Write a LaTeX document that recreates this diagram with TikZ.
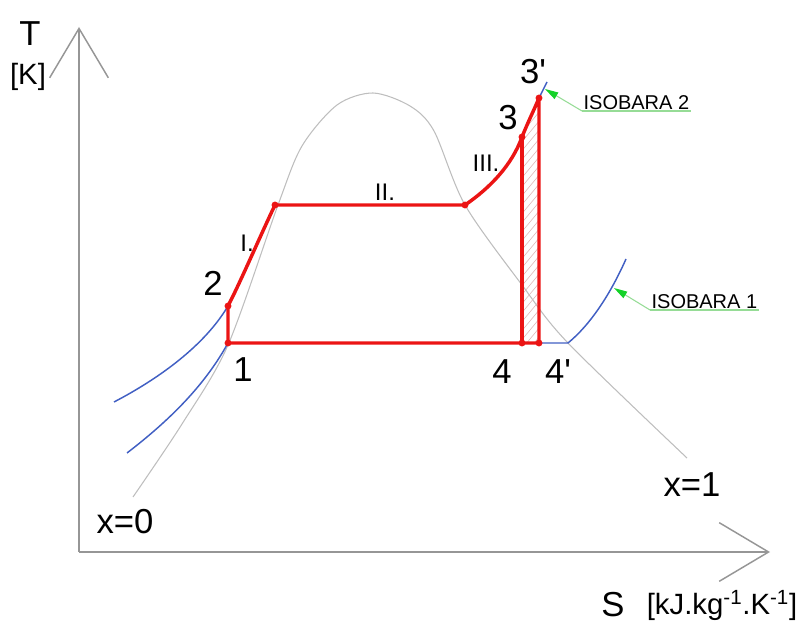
\documentclass[tikz,border=0pt]{standalone}
\usepackage{fontspec}
\setmainfont{Liberation Sans}
\usetikzlibrary{arrows.meta,positioning,calc}

\definecolor{cycred}{RGB}{235,20,20}
\definecolor{isoblue}{RGB}{65,95,195}
\definecolor{domegray}{RGB}{190,190,190}
\definecolor{axisgray}{RGB}{150,150,150}
\definecolor{leadgreen}{RGB}{150,220,150}
\definecolor{tipgreen}{RGB}{20,210,40}
\definecolor{hatchred}{RGB}{222,185,185}

\begin{document}
\begin{tikzpicture}[x=0.75pt,y=-0.75pt,
    big/.style={font=\fontsize{26}{26}\selectfont, inner sep=0pt},
    unit/.style={font=\fontsize{22}{22}\selectfont, inner sep=0pt},
    mid/.style={font=\fontsize{18}{18}\selectfont, inner sep=0pt},
    iso/.style={font=\fontsize{15}{15}\selectfont, inner sep=1pt, anchor=south west},
    cycle line/.style={cycred, line width=2.6pt, line join=round},
    isobar/.style={isoblue, line width=1.1pt},
    leader/.style={leadgreen, line width=0.8pt, -{Triangle[length=10pt,width=5.5pt,color=tipgreen]}},
    axis/.style={axisgray, line width=1.1pt, -{Straight Barb[length=37pt,width=44pt]}}]
    \useasboundingbox (0,0) rectangle (808,623);

    % axes
    \coordinate (O) at (79,552);
    \coordinate (Ttip) at (79,27);
    \coordinate (Stip) at (770,552);
    \draw[axis] (O) -- (Ttip);
    \draw[axis] (O) -- (Stip);
    \node[big] (T) at (30,34) {T};
    \node[unit] (Tunit) at (28,77) {[K]};
    \node[big] (S) at (613,605) {S};
    \node[unit] (Sunit) at (722,605) {[kJ.kg\textsuperscript{-1}.K\textsuperscript{-1}]};

    % saturation curve
    \draw[domegray, line width=0.8pt] plot[smooth, tension=0.5] coordinates {
        (133,497) (182,424) (228,345) (278,205) (302,146) (337,105) (373,93)
        (410,106) (434,131) (465,205) (522,285) (568,343) (687,458)};
    \node[big] (x0) at (125,522) {x=0};
    \node[big] (x1) at (692,485) {x=1};

    % cycle points
    \coordinate (p1) at (228,343);
    \coordinate (p2) at (228,306);
    \coordinate (sL) at (275,205);
    \coordinate (sV) at (465,205);
    \coordinate (p3) at (522,137);
    \coordinate (p3s) at (539,98);
    \coordinate (p4) at (522,343);
    \coordinate (p4s) at (539,343);
    \coordinate (q4) at (568,343);

    % hatched loss area
    \begin{scope}
        \clip (p4) -- (p3) .. controls (528,122) and (534,110) .. (p3s) -- (p4s) -- cycle;
        \foreach \y in {90,99,...,420}
            \draw[hatchred, line width=0.45pt] (505,\y) -- (555,\y-60);
    \end{scope}

    % isobars
    \coordinate (b2end) at (114,402);
    \coordinate (b1end) at (127,453);
    \coordinate (top2) at (547,82);
    \coordinate (top1) at (626,259);
    \draw[isobar] (b2end) .. controls (160,378) and (205,345) .. (p2);
    \draw[isobar] (b1end) .. controls (170,420) and (205,385) .. (p1);
    \draw[isobar] (p3s) -- (top2);
    \draw[isobar] (p4s) -- (q4) .. controls (590,325) and (610,295) .. (top1);

    % cycle
    \draw[cycle line] (p4s) -- (p1) -- (p2) .. controls (240,283) and (262,232) .. (sL) -- (sV)
        .. controls (490,188) and (512,165) .. (p3) .. controls (528,122) and (534,110) .. (p3s) -- cycle;
    \draw[cycle line] (p3) -- (p4);
    \foreach \p in {p1,p2,sL,sV,p3,p3s,p4,p4s}
        \fill[cycred] (\p) circle (2.6pt);

    \node[big] (l1) at (243,370) {1};
    \node[big] (l2) at (213,283) {2};
    \node[big] (l3) at (508,118) {3};
    \node[big] (l3s) at (533,72) {3\textquotesingle};
    \node[big] (l4) at (502,372) {4};
    \node[big] (l4s) at (558,372) {4\textquotesingle};
    \node[mid] (sI) at (247,243) {I.};
    \node[mid] (sII) at (385,192) {II.};
    \node[mid] (sIII) at (486,163) {III.};

    % isobar labels
    \coordinate (tip2) at (545,89);
    \coordinate (tip1) at (614,288);
    \node[iso] (iso2) at (582,111) {ISOBARA 2};
    \node[iso] (iso1) at (650,310) {ISOBARA 1};
    \draw[leadgreen, line width=0.8pt] (iso2.south west) -- (iso2.south east);
    \draw[leadgreen, line width=0.8pt] (iso1.south west) -- (iso1.south east);
    \draw[leader] (iso2.south west) -- (tip2);
    \draw[leader] (iso1.south west) -- (tip1);
\end{tikzpicture}
\end{document}
